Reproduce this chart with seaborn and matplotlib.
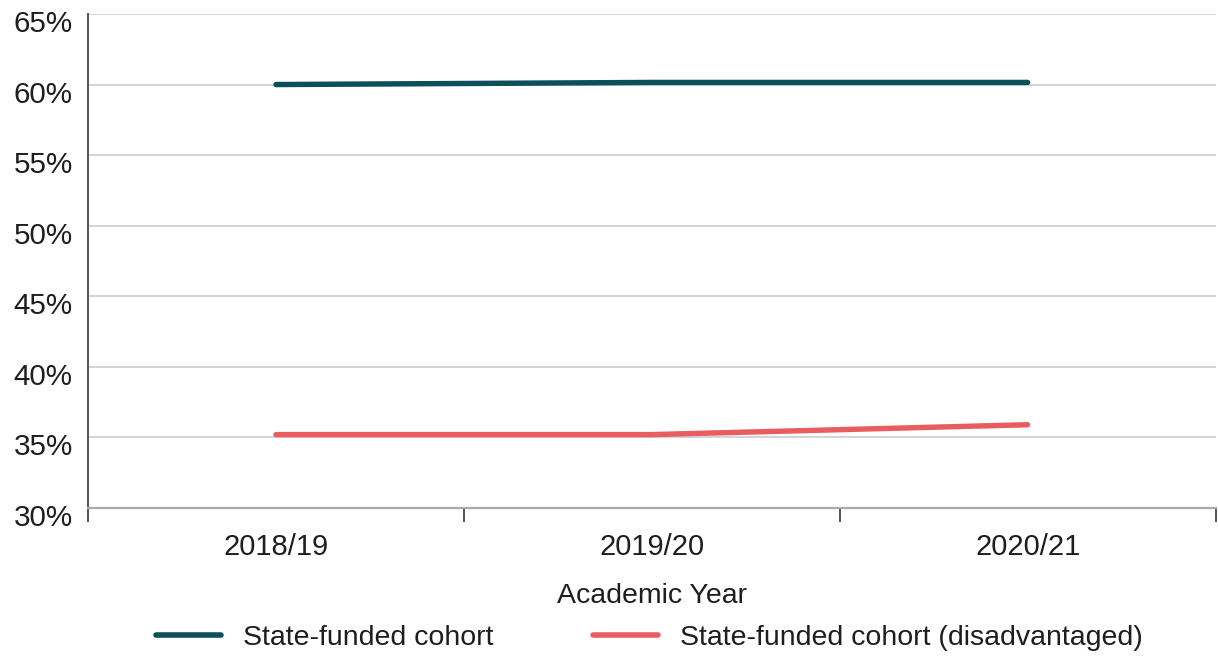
import matplotlib
matplotlib.use("Agg")
import matplotlib.pyplot as plt
from matplotlib.ticker import FixedLocator, FuncFormatter
from matplotlib.transforms import ScaledTranslation
import seaborn as sns
import pandas as pd

# Academic years and attainment rates (%)
years = ["2018/19", "2019/20", "2020/21"]
all_pupils = [60.0, 60.15, 60.15]
disadvantaged = [35.2, 35.2, 35.9]
series_names = ["State-funded cohort", "State-funded cohort (disadvantaged)"]
y_ticks = [30, 35, 40, 45, 50, 55, 60, 65]

df = pd.DataFrame({
    "Academic Year": years * 2,
    "value": all_pupils + disadvantaged,
    "series": [series_names[0]] * 3 + [series_names[1]] * 3,
})

sns.set_theme(style="white")
plt.rcParams["font.family"] = ["Liberation Sans", "DejaVu Sans"]
text_color = "#1e1e1e"

fig = plt.figure(figsize=(12.18, 6.56), dpi=100)
ax = fig.add_axes([0.0723, 0.2256, 0.9257, 0.7531])

palette = {series_names[0]: "#0b4f5a", series_names[1]: "#e95d60"}
sns.lineplot(data=df, x="Academic Year", y="value", hue="series",
             palette=palette, linewidth=3.9, ax=ax, legend=False,
             solid_capstyle="round", sort=False)

ax.set_xlim(-0.5, 2.5)
ax.set_ylim(30, 65)
ax.set_yticks(y_ticks)
ax.yaxis.set_major_formatter(FuncFormatter(lambda v, p: f"{v:.0f}%"))
ax.grid(axis="y", color="#cccccc", linewidth=1.2)
ax.set_axisbelow(True)

# category labels centred, tick marks on the boundaries
ax.set_xticks(range(len(years)))
ax.set_xticklabels(years)
ax.xaxis.set_minor_locator(FixedLocator([-0.5, 0.5, 1.5, 2.5]))
ax.tick_params(axis="x", which="major", length=0, pad=18,
               labelsize=21, labelcolor=text_color)
ax.tick_params(axis="x", which="minor", length=10, width=1.2,
               color="#333333", direction="out", bottom=True)
ax.tick_params(axis="y", length=0, pad=11, labelsize=21.3,
               labelcolor=text_color)

# percentage labels sit slightly below their gridlines
shift = ScaledTranslation(0, -7 / 100, fig.dpi_scale_trans)
for lbl in ax.get_yticklabels():
    lbl.set_transform(lbl.get_transform() + shift)

for side in ["top", "right"]:
    ax.spines[side].set_visible(False)
ax.spines["left"].set_color("#555555")
ax.spines["left"].set_linewidth(1.4)
ax.spines["bottom"].set_color("#aaaaaa")
ax.spines["bottom"].set_linewidth(1.6)

ax.set_ylabel("")
ax.set_xlabel("Academic Year", fontsize=20.5, color=text_color, labelpad=16)

handles = [plt.Line2D([], [], color=palette[n], linewidth=4) for n in series_names]
fig.legend(handles, series_names, loc="center", bbox_to_anchor=(0.533, 0.027),
           ncol=2, frameon=False, fontsize=20.5, handlelength=2.3,
           columnspacing=3.5, handletextpad=0.75, labelcolor=text_color)

fig.savefig("out.png", dpi=100)
